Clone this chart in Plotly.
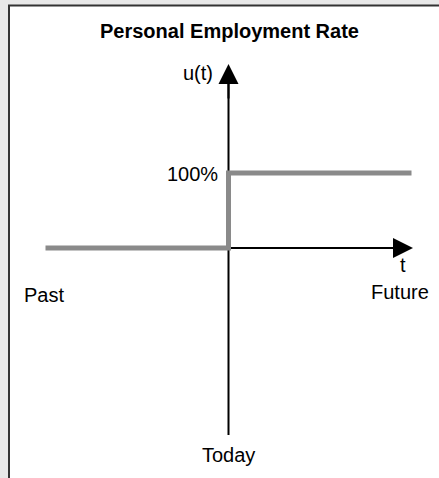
import plotly.graph_objects as go

# Data: personal employment rate as a step function of time
time_points = [-1, 0, 1]          # Past ... Today ... Future
employment = [0, 1, 1]            # 0% before today, 100% after
title_text = "Personal Employment Rate"
y_label = "u(t)"
y_tick_label = "100%"
x_label = "t"
left_label = "Past"
right_label = "Future"
origin_label = "Today"

W, H = 439, 478
X0PX, XS = 228.5, 183.0
Y0PX, YS = 248.0, 75.0

def dx(p):
    return (p - X0PX) / XS

def dy(p):
    return (Y0PX - p) / YS

FONT = "Liberation Sans, Arial, sans-serif"
FS = 20

fig = go.Figure()
fig.add_trace(go.Scatter(
    x=time_points, y=employment, mode="lines", line_shape="hv",
    line=dict(color="#8a8a8a", width=5), hoverinfo="skip", showlegend=False,
))

shapes = [
    dict(type="rect", xref="paper", yref="paper", x0=9 / W, x1=1.05, y0=-0.05, y1=1 - 5.5 / H,
         fillcolor="white", line=dict(color="#333333", width=2), layer="below"),
    dict(type="line", xref="x", yref="y", x0=0, x1=0, y0=dy(435), y1=dy(80),
         line=dict(color="black", width=2), layer="below"),
    dict(type="line", xref="x", yref="y", x0=0, x1=dx(395), y0=0, y1=0,
         line=dict(color="black", width=2), layer="below"),
]

annots = [
    # arrow heads
    dict(x=0, y=dy(64), ax=0, ay=dy(100), xref="x", yref="y", axref="x", ayref="y",
         text="", showarrow=True, arrowhead=2, arrowsize=2.0, arrowwidth=2, arrowcolor="black"),
    dict(x=dx(413), y=0, ax=dx(375), ay=0, xref="x", yref="y", axref="x", ayref="y",
         text="", showarrow=True, arrowhead=2, arrowsize=2.0, arrowwidth=2, arrowcolor="black"),
    # texts
    dict(x=dx(229), y=dy(31), text="<b>" + title_text + "</b>", xanchor="center", yanchor="middle",
         font=dict(family=FONT, size=20, color="black")),
    dict(x=dx(215), y=dy(73), text=y_label, xanchor="right", yanchor="middle",
         font=dict(family=FONT, size=FS, color="black")),
    dict(x=dx(220), y=dy(174), text=y_tick_label, xanchor="right", yanchor="middle",
         font=dict(family=FONT, size=FS, color="black")),
    dict(x=dx(403), y=dy(265), text=x_label, xanchor="center", yanchor="middle",
         font=dict(family=FONT, size=FS, color="black")),
    dict(x=dx(400), y=dy(292), text=right_label, xanchor="center", yanchor="middle",
         font=dict(family=FONT, size=FS, color="black")),
    dict(x=dx(22), y=dy(295), text=left_label, xanchor="left", yanchor="middle",
         font=dict(family=FONT, size=FS, color="black")),
    dict(x=dx(228), y=dy(455), text=origin_label, xanchor="center", yanchor="middle",
         font=dict(family=FONT, size=FS, color="black")),
]
for a in annots:
    a.setdefault("showarrow", False)

fig.update_layout(
    width=W, height=H, margin=dict(l=0, r=0, t=0, b=0),
    paper_bgcolor="#e8e8e8", plot_bgcolor="rgba(0,0,0,0)",
    xaxis=dict(range=[dx(0), dx(W)], visible=False, fixedrange=True),
    yaxis=dict(range=[dy(H), dy(0)], visible=False, fixedrange=True),
    shapes=shapes, annotations=annots, showlegend=False,
)
fig.write_html(
    "out.html",
    config={"displayModeBar": False},
    post_script="document.body.style.margin='0';document.body.style.overflow='hidden';",
)
